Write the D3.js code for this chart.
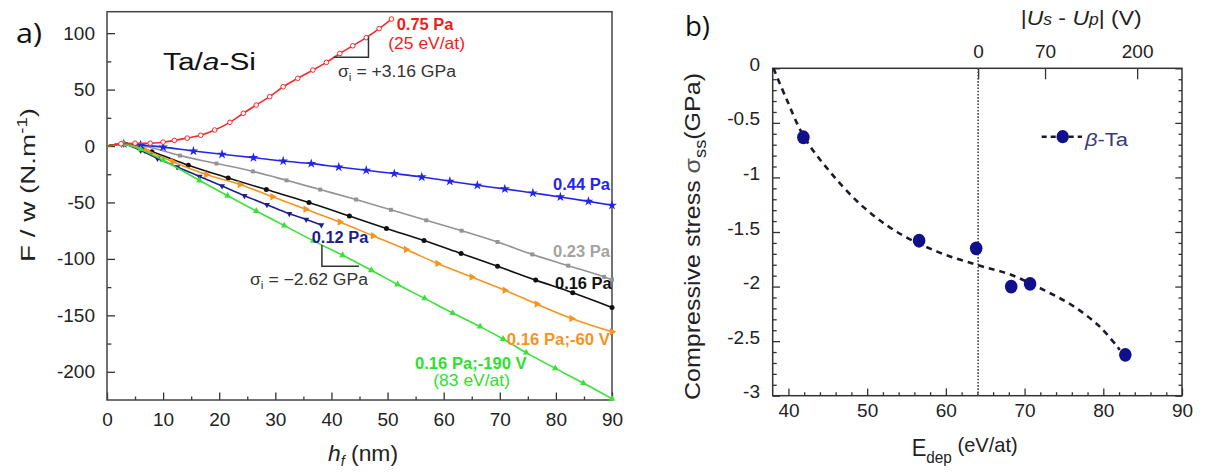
<!DOCTYPE html>
<html><head><meta charset="utf-8">
<script src="https://cdn.jsdelivr.net/npm/d3@7"></script>
<style>
html,body{margin:0;padding:0;background:#fff;}
svg{display:block;font-family:"Liberation Sans",Arial,sans-serif;}
</style></head><body>
<svg id="c" width="1206" height="473"></svg>
<script>
// ===== Panel a data: h_f (nm) vs F/w (N.m^-1) =====
const hfTicks = [0,10,20,30,40,50,60,70,80,90];
const fwTicks = [-200,-150,-100,-50,0,50,100];
const p075 = [[0,0],[2.5,2],[5,2.5],[7.7,2.5],[10,3.5],[12,5],[14.3,7],[16.7,9.5],[19.2,14.2],[21.9,21],[24.3,29],[26.6,36.3],[29,43.7],[31.4,52.5],[34,60],[36.7,67.3],[39.1,74.1],[41.5,82],[43.8,88.8],[46.2,96],[48.5,104],[50.7,112.5]];
const p044 = [[0,0],[3,2],[6,1],[10,-1],[15.4,-4.4],[20.5,-7.3],[26.1,-10.3],[31.4,-13.3],[36.4,-15.6],[41.3,-18.6],[46.2,-21.5],[51.2,-24.4],[56.1,-27.4],[61.1,-31.2],[66,-34.8],[70.9,-38],[75.9,-41.6],[80.8,-45.1],[85.8,-49],[90,-52.5]];
const p023 = [[0,0],[3,2],[6.5,0],[13,-8.5],[19.5,-15.5],[26,-22.5],[32,-30.4],[38,-38.6],[44.4,-47.4],[50.6,-56.5],[56.9,-65.8],[63.2,-75],[69.6,-85],[75.8,-96],[82.2,-106],[88.6,-116],[90,-118.5]];
const p016 = [[0,0],[3,2],[8,-5],[14.5,-17],[21.6,-28.3],[28.4,-38.6],[36,-50],[43.2,-62],[49.8,-73],[56.5,-83.7],[63.1,-95.2],[69.6,-106.5],[76.4,-118.8],[83,-130],[90,-143]];
const p016v60 = [[0,0],[3,2],[7,-4],[11.7,-14],[17.7,-25.3],[23.7,-34],[29.5,-45],[35.4,-56],[41.5,-67.3],[47.4,-79.5],[53.3,-91.7],[58.9,-104],[65,-116],[70.9,-127.7],[76.6,-140],[82.8,-152.8],[90,-164.6]];
const p012 = [[0,0],[3,1.5],[6,-4],[9,-11],[12.5,-18.5],[16.5,-27],[20.5,-35.5],[24.5,-44],[28.5,-52],[32.5,-60],[35.5,-65],[38.2,-70]];
const p016v190 = [[0,0],[3,1.5],[6,-3],[10,-12.6],[16.5,-30.5],[21.5,-44],[26.6,-57.5],[31.6,-70.5],[36.8,-84],[42,-96.7],[47.1,-110],[51.8,-122.7],[56.6,-135],[61.6,-148],[66.5,-160],[70.6,-171],[74.7,-183],[79.9,-197],[84.9,-210],[90,-224]];
// slope-triangle annotations (data units)
const triUp = [[40.4,78.6],[46.6,78.6],[46.6,97]];
const triDown = [[38.3,-87.7],[38.3,-106.4],[44.9,-106.4]];

// ===== Panel b data: E_dep (eV/at) vs compressive stress (GPa) =====
const edepTicks = [40,50,60,70,80,90];
const sigmaTicks = [0,-0.5,-1,-1.5,-2,-2.5,-3];
const edep = [41.9,56.6,63.85,68.3,70.7,82.8];
const sigma = [-0.632,-1.58,-1.65,-2.0,-1.975,-2.625];
const fitE = [38.1,39.8,42,45.3,49.5,53.8,58.9,63.9,68.2,72.4,76.2,79.6,82.1];
const fitS = [0,-0.29,-0.63,-0.95,-1.27,-1.5,-1.68,-1.80,-1.89,-2.03,-2.18,-2.37,-2.58];
const dUTickLabels = ["0","70","200"];
const dUTickE = [64.1,72.6,84.3];
const zeroBiasE = 64.1;

const svg = d3.select('#c');
const FONT = '"Liberation Sans",Arial,sans-serif';

function label(parent, o, parts){
  const t = parent.append('text')
    .attr('transform', `translate(${o.x},${o.y})` + (o.rot ? ` rotate(${o.rot})` : ''))
    .attr('font-size', o.size).attr('font-weight', o.weight || 'normal')
    .attr('fill', o.fill || '#222').attr('text-anchor', o.anchor || 'start')
    .attr('font-family', o.family || FONT);
  parts.forEach(p => {
    if (typeof p === 'string') p = {t:p};
    const ts = t.append('tspan').text(p.t);
    if (p.italic) ts.attr('font-style','italic');
    if (p.size) ts.attr('font-size', p.size);
    if (p.dy) ts.attr('dy', p.dy);
    if (p.fill) ts.attr('fill', p.fill);
  });
  if (o.len) t.attr('textLength', o.len).attr('lengthAdjust','spacingAndGlyphs');
  return t;
}
function styleAxis(g, size){
  g.select('.domain').remove();
  g.selectAll('line').attr('stroke','#333').attr('stroke-width',1.3);
  g.selectAll('text').attr('font-size', size || 19).attr('fill','#222').attr('font-family', FONT);
}
const fmt = d => String(d);

// ================= PANEL A =================
const xA = d3.scaleLinear().domain([0,90]).range([107,612]);
const yA = d3.scaleLinear().domain([-225,119]).range([400,11.7]);
const gA = svg.append('g');

gA.append('g').attr('transform','translate(0,400)')
  .call(d3.axisBottom(xA).tickValues(d3.range(5,90,10)).tickSize(-3.5).tickFormat(''))
  .call(g => styleAxis(g));
gA.append('g').attr('transform','translate(0,400)')
  .call(d3.axisBottom(xA).tickValues(hfTicks).tickSize(-7.5).tickPadding(13).tickFormat(fmt))
  .call(g => styleAxis(g));
gA.append('g').attr('transform','translate(107,0)')
  .call(d3.axisLeft(yA).tickValues([-175,-125,-75,-25,25,75]).tickSize(-4.3).tickFormat(''))
  .call(g => styleAxis(g));
gA.append('g').attr('transform','translate(107,0)')
  .call(d3.axisLeft(yA).tickValues(fwTicks).tickSize(-8).tickPadding(12).tickFormat(fmt))
  .call(g => styleAxis(g));
gA.append('rect').attr('x',xA(0)).attr('y',yA(119)).attr('width',xA(90)-xA(0)).attr('height',yA(-225)-yA(119))
  .attr('fill','none').attr('stroke','#444').attr('stroke-width',1.5);

const seriesA = [
  {data:p023, color:'#939393', sym:d3.symbolSquare, size:16},
  {data:p044, color:'#2424f0', sym:d3.symbolStar, size:30},
  {data:p016, color:'#111111', sym:d3.symbolCircle, size:20},
  {data:p016v60, color:'#f7931e', sym:d3.symbolTriangle, size:24, rot:90},
  {data:p012, color:'#1e1e8c', sym:d3.symbolTriangle, size:16, rot:180},
  {data:p016v190, color:'#3be03b', sym:d3.symbolTriangle, size:20},
  {data:p075, color:'#f52a2a', sym:'ring'}
];
const lineA = d3.line().x(d=>xA(d[0])).y(d=>yA(d[1])).curve(d3.curveMonotoneX);
seriesA.forEach(s => {
  gA.append('path').datum(s.data).attr('d', lineA).attr('fill','none')
    .attr('stroke', s.color).attr('stroke-width',1.6);
  const pts = s.data.slice(1);
  if (s.sym === 'ring') {
    gA.append('g').selectAll('circle').data(pts).join('circle')
      .attr('cx', d => xA(d[0])).attr('cy', d => yA(d[1])).attr('r', 2.3)
      .attr('fill','#fff').attr('stroke', s.color).attr('stroke-width',1);
  } else {
    gA.append('g').selectAll('path').data(pts).join('path')
      .attr('d', d3.symbol().type(s.sym).size(s.size))
      .attr('transform', d => `translate(${xA(d[0])},${yA(d[1])})` + (s.rot ? ` rotate(${s.rot})` : ''))
      .attr('fill', s.color);
  }
});
// slope triangles
const triLine = d3.line().x(d=>xA(d[0])).y(d=>yA(d[1]));
[triUp, triDown].forEach(t => gA.append('path').attr('d', triLine(t)).attr('fill','none')
  .attr('stroke','#333').attr('stroke-width',1.5));

// panel a texts
label(svg, {x:16, y:43, size:27, family:'"Open Sans",sans-serif', fill:'#111', len:26}, ['a)']);
label(svg, {x:163, y:70, size:23, fill:'#111', len:93}, ['Ta/', {t:'a', italic:true}, '-Si']);
label(svg, {x:35, y:185, size:21, rot:-90, anchor:'middle', len:154}, ['F / w (N.m', {t:'-1', size:14, dy:-8}, {t:')', dy:8}]);
label(svg, {x:328, y:461, size:22, len:70}, [{t:'h', italic:true}, {t:'f', italic:true, size:14, dy:5}, {t:' (nm)', dy:-5}]);
label(svg, {x:396.7, y:30, size:16, weight:'bold', fill:'#f01c1c', len:56.7}, ['0.75 Pa']);
label(svg, {x:388.3, y:48.5, size:16.5, fill:'#f01c1c', len:76.7}, ['(25 eV/at)']);
label(svg, {x:338, y:77, size:16, fill:'#333', len:118}, ['σ', {t:'i', size:11, dy:4}, {t:' = +3.16 GPa', dy:-4}]);
label(svg, {x:553, y:190, size:16, weight:'bold', fill:'#2424f0', len:57}, ['0.44 Pa']);
label(svg, {x:311.7, y:242.5, size:16, weight:'bold', fill:'#1e1e8c', len:56.6}, ['0.12 Pa']);
label(svg, {x:250, y:285, size:16, fill:'#333', len:118}, ['σ', {t:'i', size:11, dy:4}, {t:' = −2.62 GPa', dy:-4}]);
label(svg, {x:553, y:257, size:16, weight:'bold', fill:'#a3a3a3', len:57}, ['0.23 Pa']);
label(svg, {x:555, y:289, size:16, weight:'bold', fill:'#111', len:56.7}, ['0.16 Pa']);
label(svg, {x:506.7, y:345, size:16, weight:'bold', fill:'#f7931e', len:103.3}, ['0.16 Pa;-60 V']);
label(svg, {x:415, y:369, size:16, weight:'bold', fill:'#2ee02e', len:111.7}, ['0.16 Pa;-190 V']);
label(svg, {x:433.3, y:386, size:16.5, fill:'#2ee02e', len:76.7}, ['(83 eV/at)']);

// ================= PANEL B =================
const xB = d3.scaleLinear().domain([38,90]).range([772.7,1182]);
const yB = d3.scaleLinear().domain([-3,0]).range([395.7,68.3]);
const gB = svg.append('g');

const minorE = d3.range(40,90,2).filter(v => v % 10 !== 0);
const minorS = d3.range(-29,0,1).map(v => v/10).filter(v => Math.abs(v*2 - Math.round(v*2)) > 1e-6);
gB.append('g').attr('transform','translate(0,395.7)')
  .call(d3.axisBottom(xB).tickValues(minorE).tickSize(-3.5).tickFormat('')).call(g => styleAxis(g));
gB.append('g').attr('transform','translate(0,395.7)')
  .call(d3.axisBottom(xB).tickValues(edepTicks).tickSize(-7.3).tickPadding(8).tickFormat(fmt)).call(g => styleAxis(g));
gB.append('g').attr('transform','translate(772.7,0)')
  .call(d3.axisLeft(yB).tickValues(minorS).tickSize(-4).tickFormat('')).call(g => styleAxis(g));
gB.append('g').attr('transform','translate(772.7,0)')
  .call(d3.axisLeft(yB).tickValues(sigmaTicks).tickSize(-7.3).tickPadding(12.7).tickFormat(fmt))
  .call(g => { styleAxis(g); g.selectAll('text').attr('y',-4); });
gB.append('g').attr('transform','translate(1182,0)')
  .call(d3.axisRight(yB).tickValues(minorS).tickSize(-3.5).tickFormat('')).call(g => styleAxis(g));
gB.append('g').attr('transform','translate(1182,0)')
  .call(d3.axisRight(yB).tickValues(sigmaTicks).tickSize(-6.7).tickFormat('')).call(g => styleAxis(g));
gB.append('g').attr('transform','translate(0,68.3)')
  .call(d3.axisTop(xB).tickValues(dUTickE).tickSize(-11).tickPadding(10).tickFormat((d,i)=>dUTickLabels[i]))
  .call(g => styleAxis(g));
gB.append('rect').attr('x',xB(38)).attr('y',yB(0)).attr('width',xB(90)-xB(38)).attr('height',yB(-3)-yB(0))
  .attr('fill','none').attr('stroke','#333').attr('stroke-width',1.5);

// zero-bias dotted line
gB.append('line').attr('x1',xB(zeroBiasE)).attr('x2',xB(zeroBiasE)).attr('y1',yB(0)).attr('y2',yB(-3))
  .attr('stroke','#444').attr('stroke-width',1.6).attr('stroke-dasharray','1.6,1.6');
// dashed fit
const fitPts = fitE.map((e,i)=>[e, fitS[i]]);
gB.append('path').datum(fitPts)
  .attr('d', d3.line().x(d=>xB(d[0])).y(d=>yB(d[1])).curve(d3.curveCatmullRom))
  .attr('fill','none').attr('stroke','#1a1a2a').attr('stroke-width',2.6).attr('stroke-dasharray','6,5');
// points
gB.append('g').selectAll('ellipse').data(edep.map((e,i)=>[e, sigma[i]])).join('ellipse')
  .attr('cx', d=>xB(d[0])).attr('cy', d=>yB(d[1])).attr('rx',6.3).attr('ry',6.9)
  .attr('fill','#10108c');

// legend
gB.append('line').attr('x1',1041.7).attr('x2',1082).attr('y1',136.7).attr('y2',136.7)
  .attr('stroke','#1a1a2a').attr('stroke-width',2.4).attr('stroke-dasharray','5,4');
gB.append('ellipse').attr('cx',1062.7).attr('cy',136.7).attr('rx',6.2).attr('ry',6.6).attr('fill','#10108c');
label(svg, {x:1085, y:145.7, size:18, fill:'#3a3a78', len:43}, [{t:'β', italic:true}, '-Ta']);

// panel b texts
label(svg, {x:685, y:36, size:27, family:'"Open Sans",sans-serif', fill:'#111', len:25}, ['b)']);
label(svg, {x:700, y:236.5, size:22, rot:-90, anchor:'middle', len:327}, ['Compressive stress ', {t:'σ', fill:'#555'}, {t:'ss', size:16, dy:6}, {t:'(GPa)', dy:-6}]);
label(svg, {x:911.7, y:456, size:23, len:106}, ['E', {t:'dep', size:16, dy:7}, {t:' (eV/at)', size:21, dy:-11}]);
label(svg, {x:1020.7, y:25, size:21, len:121}, ['|', {t:'U', italic:true}, {t:'s', italic:true, size:16}, ' - ', {t:'U', italic:true}, {t:'p', italic:true, size:16}, '| (V)']);
</script>
</body></html>
